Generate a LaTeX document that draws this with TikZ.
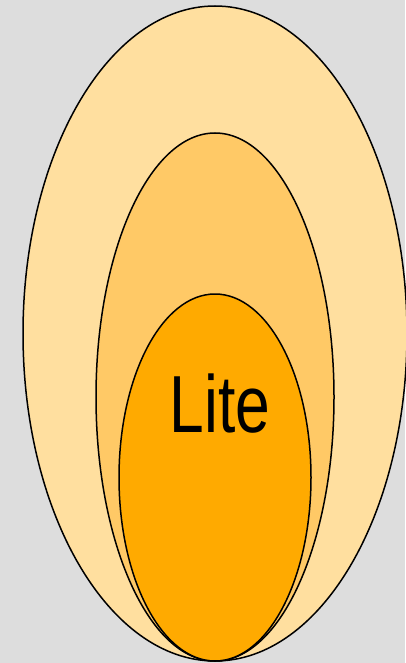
\documentclass[tikz,border=0pt]{standalone}
\usepackage{fontspec}
\setmainfont{Liberation Sans}
\usepackage{xcolor}
\definecolor{bggray}{HTML}{DDDDDD}
\definecolor{outerfill}{HTML}{FFDF9F}
\definecolor{midfill}{HTML}{FFC966}
\definecolor{innerfill}{HTML}{FFAA00}
\begin{document}
\begin{tikzpicture}[x=1pt,y=-1pt,every node/.style={font=\fontsize{81}{90}\selectfont}]
\fill[bggray] (0,0) rectangle (405,663);
\useasboundingbox (0,0) rectangle (405,663);
\filldraw[fill=outerfill,draw=black,line width=1.5pt] (215,333.5) ellipse [x radius=192,y radius=327.5];
\filldraw[fill=midfill,draw=black,line width=1.5pt] (215,397) ellipse [x radius=119,y radius=264];
\filldraw[fill=innerfill,draw=black,line width=1.5pt] (215,477.5) ellipse [x radius=96,y radius=183.5];
\node[anchor=base,inner sep=0pt,xscale=0.77] (lite) at (220,432) {Lite};
\end{tikzpicture}
\end{document}
